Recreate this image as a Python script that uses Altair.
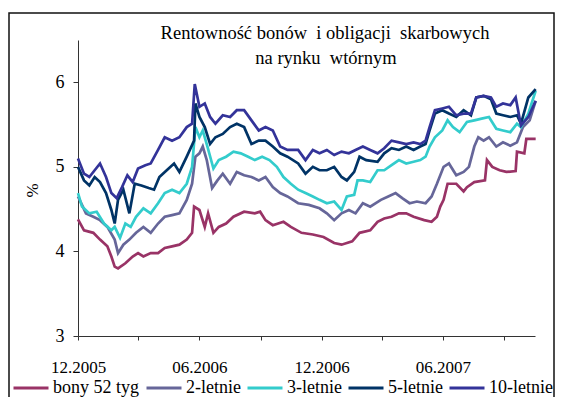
import altair as alt
import pandas as pd

series_names = ["bony 52 tyg", "2-letnie", "3-letnie", "5-letnie", "10-letnie"]
series_colors = ["#993366", "#666699", "#33CCCC", "#003366", "#333399"]
title_lines = ["Rentowność bonów \u00a0i obligacji \u00a0skarbowych", "na rynku \u00a0wtórnym"]
y_ticks = [3, 4, 5, 6]
start_date = "2005-12-01"

# days after 2005-12-01, and yields in %
bony_days = [0, 9, 23, 33, 44, 50, 55, 60, 71, 82, 90, 98, 109, 120, 130, 141, 152, 163, 171, 174, 182, 190, 195, 203, 211, 222, 233, 249, 265, 273, 281, 292, 308, 319, 335, 352, 368, 384, 395, 411, 422, 438, 449, 459, 470, 481, 492, 503, 519, 530, 538, 543, 548, 554, 567, 578, 583, 594, 610, 613, 621, 632, 642, 656, 658, 669, 672, 686]
bony_vals = [4.38, 4.25, 4.22, 4.14, 4.06, 3.94, 3.82, 3.80, 3.86, 3.94, 3.98, 3.94, 3.98, 3.98, 4.04, 4.06, 4.08, 4.14, 4.22, 4.53, 4.49, 4.29, 4.45, 4.22, 4.29, 4.33, 4.41, 4.47, 4.45, 4.47, 4.37, 4.31, 4.35, 4.29, 4.22, 4.20, 4.17, 4.10, 4.08, 4.12, 4.22, 4.25, 4.35, 4.39, 4.41, 4.45, 4.45, 4.41, 4.37, 4.35, 4.41, 4.53, 4.61, 4.80, 4.80, 4.71, 4.76, 4.82, 4.84, 5.08, 5.00, 4.96, 4.94, 4.95, 5.18, 5.16, 5.33, 5.33]

l2_days = [0, 12, 23, 33, 44, 55, 60, 68, 77, 87, 98, 109, 120, 130, 141, 152, 163, 171, 176, 182, 187, 193, 201, 209, 217, 228, 238, 249, 260, 271, 281, 292, 303, 314, 330, 346, 362, 373, 384, 395, 406, 416, 427, 438, 454, 465, 476, 486, 497, 508, 521, 530, 538, 548, 556, 567, 578, 586, 594, 600, 608, 616, 627, 637, 648, 658, 667, 677, 686]
l2_vals = [4.65, 4.45, 4.41, 4.37, 4.29, 4.14, 3.98, 4.08, 4.14, 4.22, 4.29, 4.22, 4.33, 4.41, 4.43, 4.45, 4.61, 4.80, 5.12, 5.16, 5.24, 5.08, 4.75, 4.84, 4.92, 4.80, 4.94, 4.90, 4.88, 4.84, 4.88, 4.76, 4.69, 4.65, 4.57, 4.55, 4.51, 4.45, 4.37, 4.45, 4.49, 4.45, 4.57, 4.53, 4.61, 4.65, 4.69, 4.63, 4.57, 4.59, 4.57, 4.65, 4.80, 5.00, 5.04, 4.90, 4.94, 5.00, 5.24, 5.35, 5.31, 5.35, 5.24, 5.29, 5.25, 5.29, 5.47, 5.55, 5.78]

l3_days = [0, 6, 17, 28, 39, 50, 55, 63, 71, 79, 87, 98, 109, 120, 130, 141, 152, 163, 171, 176, 182, 187, 194, 203, 211, 222, 233, 244, 255, 265, 276, 287, 298, 308, 319, 330, 341, 352, 362, 373, 384, 395, 403, 414, 419, 427, 438, 449, 459, 470, 481, 492, 503, 513, 521, 527, 535, 546, 554, 562, 572, 583, 594, 605, 616, 627, 637, 648, 658, 664, 675, 686]
l3_vals = [4.69, 4.53, 4.45, 4.47, 4.33, 4.25, 4.29, 4.16, 4.33, 4.29, 4.41, 4.51, 4.45, 4.57, 4.69, 4.73, 4.69, 4.80, 5.00, 5.47, 5.35, 5.43, 5.24, 4.98, 5.08, 5.12, 5.18, 5.16, 5.12, 5.08, 5.12, 5.08, 5.00, 4.88, 4.80, 4.73, 4.69, 4.65, 4.61, 4.57, 4.59, 4.49, 4.65, 4.67, 4.84, 4.84, 4.82, 4.96, 4.96, 5.02, 5.08, 5.04, 5.06, 5.08, 5.12, 5.24, 5.35, 5.43, 5.55, 5.47, 5.41, 5.53, 5.55, 5.57, 5.59, 5.45, 5.43, 5.41, 5.51, 5.47, 5.63, 5.90]

l5_days = [0, 9, 17, 25, 33, 42, 50, 55, 60, 68, 77, 85, 95, 106, 114, 122, 133, 144, 152, 163, 174, 176, 182, 190, 198, 206, 217, 228, 238, 249, 260, 271, 281, 292, 303, 314, 330, 341, 352, 362, 373, 384, 395, 403, 414, 422, 432, 449, 459, 470, 481, 492, 503, 513, 521, 527, 535, 546, 556, 567, 578, 589, 597, 608, 619, 627, 637, 648, 658, 664, 675, 686]
l5_vals = [5.00, 4.84, 4.78, 4.88, 4.82, 4.69, 4.49, 4.33, 4.61, 4.73, 4.45, 4.80, 4.78, 4.75, 4.73, 4.88, 4.96, 5.04, 4.94, 5.12, 5.31, 5.75, 5.59, 5.47, 5.27, 5.35, 5.39, 5.47, 5.51, 5.47, 5.27, 5.31, 5.31, 5.24, 5.16, 5.12, 5.04, 4.92, 5.00, 4.96, 4.96, 5.00, 4.88, 4.84, 4.94, 5.12, 5.08, 5.06, 5.16, 5.22, 5.20, 5.24, 5.20, 5.24, 5.27, 5.43, 5.63, 5.67, 5.63, 5.59, 5.67, 5.61, 5.82, 5.84, 5.80, 5.63, 5.61, 5.59, 5.61, 5.51, 5.82, 5.92]

l10_days = [0, 9, 17, 25, 33, 42, 50, 58, 66, 74, 82, 90, 101, 109, 120, 130, 141, 152, 163, 171, 175, 182, 190, 198, 206, 217, 228, 238, 249, 260, 271, 281, 292, 303, 314, 330, 341, 352, 362, 373, 384, 395, 406, 416, 427, 438, 449, 459, 470, 481, 492, 503, 513, 521, 527, 535, 546, 556, 567, 578, 589, 597, 608, 619, 627, 637, 648, 656, 664, 675, 686]
l10_vals = [5.10, 4.92, 4.88, 4.96, 5.04, 4.88, 4.69, 4.63, 4.76, 4.90, 4.82, 4.98, 5.02, 5.04, 5.20, 5.35, 5.31, 5.35, 5.47, 5.51, 5.98, 5.71, 5.75, 5.59, 5.51, 5.61, 5.59, 5.67, 5.67, 5.55, 5.43, 5.47, 5.43, 5.24, 5.20, 5.20, 5.08, 5.20, 5.16, 5.20, 5.14, 5.18, 5.16, 5.20, 5.24, 5.20, 5.16, 5.22, 5.31, 5.29, 5.27, 5.29, 5.27, 5.31, 5.47, 5.67, 5.69, 5.71, 5.61, 5.63, 5.63, 5.82, 5.84, 5.82, 5.71, 5.75, 5.73, 5.82, 5.49, 5.59, 5.78]

all_days = [bony_days, l2_days, l3_days, l5_days, l10_days]
all_vals = [bony_vals, l2_vals, l3_vals, l5_vals, l10_vals]

rows = []
t0 = pd.Timestamp(start_date)
for name, days, vals in zip(series_names, all_days, all_vals):
    for d, v in zip(days, vals):
        rows.append({"series": name, "date": t0 + pd.Timedelta(days=d), "value": v})
df = pd.DataFrame(rows)

SERIF = "Liberation Serif"

tick_dates = [
    alt.DateTime(year=2005, month=12, date=1),
    alt.DateTime(year=2006, month=3, date=1),
    alt.DateTime(year=2006, month=6, date=1),
    alt.DateTime(year=2006, month=9, date=1),
    alt.DateTime(year=2006, month=12, date=1),
    alt.DateTime(year=2007, month=3, date=1),
    alt.DateTime(year=2007, month=6, date=1),
    alt.DateTime(year=2007, month=9, date=1),
]

x_enc = alt.X(
    "date:T",
    scale=alt.Scale(domain=[alt.DateTime(year=2005, month=12, date=1),
                            alt.DateTime(year=2007, month=10, date=17)]),
    axis=alt.Axis(
        values=tick_dates,
        labelExpr="(month(datum.value) == 11 || month(datum.value) == 5) ? timeFormat(datum.value, '%m.%Y') : ''",
        title=None, grid=False, tickSize=4, labelPadding=19, labelFlush=False,
        labelFont=SERIF, labelFontSize=17, labelColor="black",
        domainColor="#333", tickColor="#333", labelOverlap=False,
    ),
)
y_enc = alt.Y(
    "value:Q",
    scale=alt.Scale(domain=[3, 6.5], nice=False, zero=False),
    axis=alt.Axis(
        values=y_ticks, title="%", grid=False, tickSize=5, labelPadding=9,
        labelFont=SERIF, labelFontSize=18, labelColor="black",
        titleFont=SERIF, titleFontSize=17, titleFontWeight="normal", titleColor="black",
        titleX=-46, titleY=150, titleAlign="center", titleBaseline="middle",
        domainColor="#333", tickColor="#333",
    ),
)
color_enc = alt.Color(
    "series:N",
    scale=alt.Scale(domain=series_names, range=series_colors),
    legend=alt.Legend(
        title=None, orient="none", legendX=-66, legendY=329, direction="horizontal",
        symbolType="stroke", symbolSize=1225, symbolStrokeWidth=3,
        labelFont=SERIF, labelFontSize=18, labelColor="black",
        labelOffset=3, columnPadding=0, labelLimit=200,
    ),
)

base = alt.Chart(df).mark_line(strokeWidth=2.7).encode(x=x_enc, y=y_enc, color=color_enc)
lines = [base.transform_filter(alt.datum.series == s) for s in series_names]

frame = alt.Chart(pd.DataFrame({"f": [0]})).mark_rect(filled=False, stroke="#111", strokeWidth=1.5).encode(
    x=alt.value(-69), x2=alt.value(476), y=alt.value(-27), y2=alt.value(420)
)

t1 = alt.Chart(pd.DataFrame({"t": [title_lines[0]]})).mark_text(
    font=SERIF, fontSize=18.5, color="black", align="center", baseline="middle"
).encode(text="t:N", x=alt.value(247), y=alt.value(-7))
t2 = alt.Chart(pd.DataFrame({"t": [title_lines[1]]})).mark_text(
    font=SERIF, fontSize=18.5, color="black", align="center", baseline="middle"
).encode(text="t:N", x=alt.value(248), y=alt.value(18))

chart = alt.layer(frame, *lines, t1, t2).properties(
    width=457, height=296,
    padding={"left": 70, "top": 32, "right": 20, "bottom": 61},
    autosize=alt.AutoSizeParams(type="none"),
    background="white",
).configure_view(stroke=None)

chart.save("out.html", embed_options={"renderer": "svg", "actions": False})
